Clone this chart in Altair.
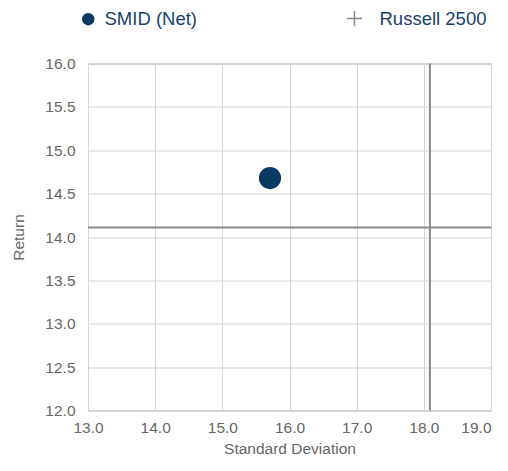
import altair as alt
import pandas as pd

names = ["SMID (Net)", "Russell 2500"]
std_dev = [15.71, 18.09]
returns = [14.68, 14.11]

df = pd.DataFrame({"name": names, "sd": std_dev, "ret": returns})
fund = df[df["name"] == "SMID (Net)"]
bench = df[df["name"] == "Russell 2500"]

x_scale = alt.Scale(domain=[13, 19], nice=False, zero=False)
y_scale = alt.Scale(domain=[12, 16], nice=False, zero=False)

x_axis = alt.Axis(title="Standard Deviation", values=[13, 14, 15, 16, 17, 18, 19], format=".1f",
                  ticks=False, domain=False, labelPadding=10, titlePadding=5, labelFlush=False,
                  labelAlign=alt.expr("datum.value == 19 ? 'right' : 'center'"))
y_axis = alt.Axis(title="Return", values=[12, 12.5, 13, 13.5, 14, 14.5, 15, 15.5, 16], format=".1f",
                  ticks=False, domain=False, labelPadding=13, titlePadding=18.5, labelFlush=False)

vline = alt.Chart(bench).mark_rule(color="#8a8a8a", strokeWidth=2).encode(
    x=alt.X("sd:Q", scale=x_scale, axis=x_axis)
)
hline = alt.Chart(bench).mark_rule(color="#8a8a8a", strokeWidth=2).encode(
    y=alt.Y("ret:Q", scale=y_scale, axis=y_axis)
)

legend = alt.Legend(title=None, orient="none", direction="horizontal", legendX=-9, legendY=-54.2,
                    labelFontSize=18.5, labelColor="#1a3f6c", symbolSize=120, symbolStrokeWidth=1.5,
                    columnPadding=146, labelOffset=7, labelFont="Liberation Sans")

pts = alt.Chart(fund).mark_point(size=430, strokeWidth=1.5, opacity=1).encode(
    x=alt.X("sd:Q", scale=x_scale, axis=x_axis),
    y=alt.Y("ret:Q", scale=y_scale, axis=y_axis),
    color=alt.Color("name:N", scale=alt.Scale(domain=names, range=["#0b3962", "#8a8a8a"]), legend=legend),
    fill=alt.Fill("name:N", scale=alt.Scale(domain=names, range=["#0b3962", "transparent"]), legend=legend),
    shape=alt.Shape("name:N", scale=alt.Scale(domain=names, range=["circle", "M-3.0,0H-0.2M-1.6,-1.4V1.4"]), legend=legend),
)

chart = alt.layer(hline, vline, pts).properties(
    width=403, height=347,
    padding={"left": 3, "top": 0.5, "right": 0, "bottom": 0}
).configure_view(
    stroke="#a6a6a6", strokeWidth=1
).configure_axis(
    grid=True, gridColor="#d4d4d4", gridWidth=1,
    labelColor="#666666", labelFontSize=15.5, labelFont="Liberation Sans",
    titleColor="#666666", titleFontSize=15.5, titleFont="Liberation Sans", titleFontWeight="normal"
)

chart.save("out.html", embed_options={"renderer": "svg", "actions": False})
